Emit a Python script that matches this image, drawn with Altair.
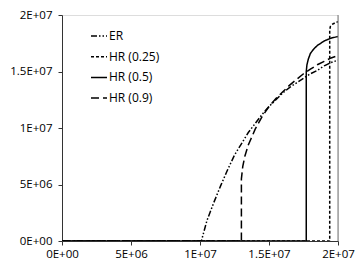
import altair as alt
import pandas as pd

# values in units of 1e6
er_x = [0, 10.1, 10.5, 11, 11.5, 12, 12.5, 13, 13.5, 14, 14.5, 15, 15.5, 16, 16.5, 17, 17.5, 18, 18.5, 19, 19.5, 20]
er_y = [0, 0, 1.8, 3.4, 4.9, 6.3, 7.6, 8.6, 9.6, 10.4, 11.2, 11.9, 12.5, 13.1, 13.6, 14.0, 14.4, 14.8, 15.1, 15.5, 15.8, 16.0]

hr25_x = [0, 19.4, 19.4, 19.45, 19.55, 19.7, 19.85, 20]
hr25_y = [0, 0, 18.7, 19.0, 19.15, 19.25, 19.35, 19.4]

hr50_x = [0, 17.7, 17.7, 17.75, 17.85, 18.0, 18.25, 18.5, 19.0, 19.5, 20]
hr50_y = [0, 0, 15.0, 15.6, 16.1, 16.6, 17.0, 17.3, 17.7, 17.95, 18.1]

hr90_x = [0, 13.0, 13.0, 13.1, 13.25, 13.5, 14, 14.5, 15, 15.5, 16, 16.5, 17, 17.5, 18, 18.5, 19, 19.5, 20]
hr90_y = [0, 0, 5.5, 6.6, 7.5, 8.5, 9.9, 11.0, 11.9, 12.6, 13.2, 13.8, 14.3, 14.8, 15.2, 15.6, 15.9, 16.2, 16.4]

series = ["ER", "HR (0.25)", "HR (0.5)", "HR (0.9)"]
dashes = [[6, 2, 1.5, 2, 1.5, 2], [3, 2], [1, 0], [8, 4]]

tick_vals = [0, 5e6, 1e7, 1.5e7, 2e7]
tick_labels = ["0E+00", "5E+06", "1E+07", "1.5E+07", "2E+07"]

rows = []
for name, xs, ys in zip(series, [er_x, hr25_x, hr50_x, hr90_x], [er_y, hr25_y, hr50_y, hr90_y]):
    for i, (x, y) in enumerate(zip(xs, ys)):
        rows.append({"series": name, "x": x * 1e6, "y": y * 1e6, "order": i})
df = pd.DataFrame(rows)

label_expr = " : ".join(
    f"datum.value == {v} ? '{l}'" for v, l in zip(tick_vals, tick_labels)
) + " : ''"

FONT = "Open Sans"
FS = 11.5
AX = "#333333"

x_axis = alt.Axis(values=tick_vals, labelExpr=label_expr, grid=False, domainColor=AX,
                  tickColor=AX, tickSize=4, labelFont=FONT, labelFontSize=FS,
                  labelColor="#000", title=None, labelPadding=3, labelFlush=False)
y_axis = alt.Axis(values=tick_vals, labelExpr=label_expr, grid=False, domainColor=AX,
                  tickColor=AX, tickSize=4, labelFont=FONT, labelFontSize=FS,
                  labelColor="#000", title=None, labelPadding=6)

lines = alt.Chart(df).mark_line(strokeWidth=1.5, color="black", clip=True).encode(
    x=alt.X("x:Q", scale=alt.Scale(domain=[0, 2e7], nice=False), axis=x_axis),
    y=alt.Y("y:Q", scale=alt.Scale(domain=[0, 2e7], nice=False), axis=y_axis),
    strokeDash=alt.StrokeDash(
        "series:N",
        scale=alt.Scale(domain=series, range=dashes),
        legend=alt.Legend(
            title=None, orient="none", legendX=28, legendY=12,
            symbolType="stroke", symbolSize=256, symbolStrokeWidth=1.5,
            symbolStrokeColor="black", labelFont=FONT, labelFontSize=12,
            labelColor="#000", rowPadding=5.7, labelOffset=1, padding=0,
        ),
    ),
    detail="series:N",
    order="order:Q",
)

border = alt.Chart(pd.DataFrame({"x": [2e7]})).mark_rule(color="#777777", strokeWidth=1).encode(
    x="x:Q"
)

chart = alt.layer(lines, border).properties(
    width=276, height=226,
    autosize=alt.AutoSizeParams(type="none"),
    padding={"left": 54, "top": 7, "right": 18, "bottom": 22},
).configure_view(stroke=None).configure(background="white")

chart.save("out.html", embed_options={"renderer": "svg", "actions": False})
